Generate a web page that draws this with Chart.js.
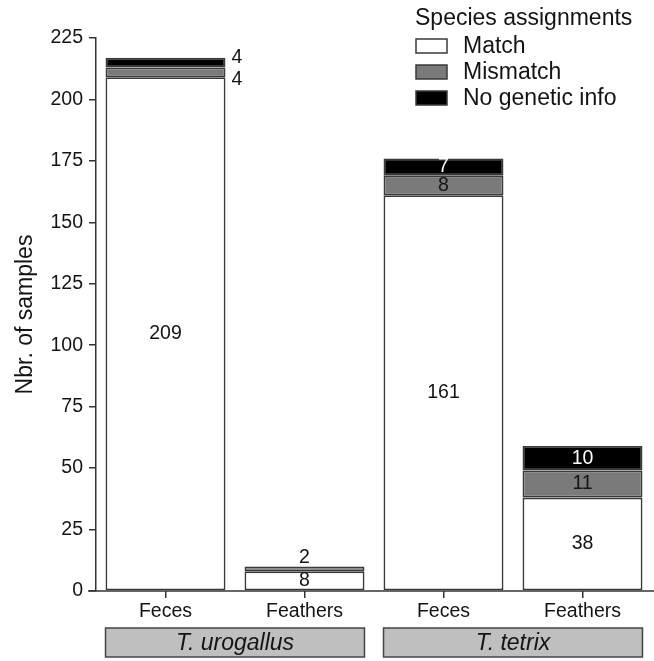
<!DOCTYPE html>
<html>
<head>
<meta charset="utf-8">
<script src="https://cdn.jsdelivr.net/npm/chart.js@4.4.1/dist/chart.umd.min.js"></script>
<style>
  body { margin: 0; background: #fff; }
  canvas { display: block; }
</style>
</head>
<body>
<canvas id="myChart1" width="654" height="661"></canvas>
<script>
const categories = ['Feces', 'Feathers', 'Feces', 'Feathers'];
const groups = ['T. urogallus', 'T. tetrix'];
const groupOfCategory = [0, 0, 1, 1];
const seriesNames = ['Match', 'Mismatch', 'No genetic info'];
const matchCounts = [209, 8, 161, 38];
const mismatchCounts = [4, 2, 8, 11];
const noInfoCounts = [4, 0, 7, 10];
const yMax = 225;
const yStep = 25;

const fillColors = ['#ffffff', '#7a7a7a', '#000000'];
const edgeColor = '#3a3a3a';
const textColor = '#141414';
const fontFamily = '"Liberation Sans", Arial, Helvetica, sans-serif';

// value labels inside segments, small ones pushed outside
const segmentLabels = {
    id: 'segmentLabels',
    afterDatasetsDraw(chart) {
        const c = chart.ctx;
        c.save();
        c.font = '19.5px ' + fontFamily;
        c.textAlign = 'center';
        c.textBaseline = 'middle';
        for (let i = 0; i < categories.length; i++) {
            let small = [];
            let stackTop = Infinity;
            let right = 0;
            chart.data.datasets.forEach((ds, d) => {
                const v = ds.data[i];
                if (!v) return;
                const bar = chart.getDatasetMeta(d).data[i];
                stackTop = Math.min(stackTop, bar.y);
                right = bar.x + bar.width / 2;
                const h = bar.base - bar.y;
                if (h >= 16) {
                    c.fillStyle = ds.backgroundColor === '#000000' ? '#ffffff' : textColor;
                    c.textAlign = 'center';
                    c.fillText(String(v), bar.x, (bar.y + bar.base) / 2);
                } else {
                    small.push({ v: v, bar: bar });
                }
            });
            if (small.length === 1) {
                c.fillStyle = textColor;
                c.textAlign = 'center';
                c.fillText(String(small[0].v), small[0].bar.x, stackTop - 9);
            } else if (small.length > 1) {
                small.sort((a, b) => a.bar.y - b.bar.y);
                c.fillStyle = textColor;
                c.textAlign = 'left';
                small.forEach((s, k) => {
                    c.fillText(String(s.v), right + 6, stackTop + k * 22);
                });
            }
        }
        c.restore();
    }
};

// legend box, group boxes and axis line extension
const decorations = {
    id: 'decorations',
    afterDraw(chart) {
        const c = chart.ctx;
        const area = chart.chartArea;
        c.save();

        // x axis line runs a little past the y axis
        c.strokeStyle = '#333';
        c.lineWidth = 1.5;
        c.beginPath();
        c.moveTo(area.left - 8, area.bottom);
        c.lineTo(chart.width, area.bottom);
        c.stroke();

        // species boxes
        const meta = chart.getDatasetMeta(0);
        groups.forEach((g, gi) => {
            const idx = [];
            groupOfCategory.forEach((v, k) => { if (v === gi) idx.push(k); });
            const first = meta.data[idx[0]];
            const last = meta.data[idx[idx.length - 1]];
            const x0 = first.x - first.width / 2;
            const x1 = last.x + last.width / 2;
            const y0 = area.bottom + 37;
            const h = 29;
            c.fillStyle = '#bfbfbf';
            c.fillRect(x0, y0, x1 - x0, h);
            c.strokeStyle = '#444';
            c.lineWidth = 1.5;
            c.strokeRect(x0, y0, x1 - x0, h);
            c.fillStyle = textColor;
            c.font = 'italic 23px ' + fontFamily;
            c.textAlign = 'center';
            c.textBaseline = 'middle';
            c.fillText(g, (x0 + x1) / 2, y0 + h / 2 + 1);
        });

        // legend
        const lx = 415;
        c.font = '23px ' + fontFamily;
        c.textAlign = 'left';
        c.textBaseline = 'middle';
        c.fillStyle = textColor;
        c.fillText('Species assignments', lx, 19);
        chart.data.datasets.forEach((ds, d) => {
            const cy = 46 + d * 26;
            c.fillStyle = ds.backgroundColor;
            c.fillRect(lx + 1, cy - 7, 31, 14);
            c.strokeStyle = edgeColor;
            c.lineWidth = 1.5;
            c.strokeRect(lx + 1, cy - 7, 31, 14);
            c.fillStyle = textColor;
            c.fillText(ds.label, lx + 48, cy + 1);
        });
        c.restore();
    }
};

const ctx = document.getElementById('myChart1').getContext('2d');
const seriesValues = [matchCounts, mismatchCounts, noInfoCounts];

const myChart1 = new Chart(ctx, {
    type: 'bar',
    data: {
        labels: categories,
        datasets: seriesNames.map((name, k) => ({
            label: name,
            data: seriesValues[k],
            backgroundColor: fillColors[k],
            borderColor: edgeColor,
            borderWidth: 1.8,
            borderSkipped: false,
            categoryPercentage: 1,
            barPercentage: 0.863
        }))
    },
    options: {
        responsive: false,
        animation: false,
        events: [],
        layout: {
            padding: { top: 38, right: 2, left: 0, bottom: 0 }
        },
        plugins: {
            legend: { display: false },
            tooltip: { enabled: false }
        },
        scales: {
            x: {
                stacked: true,
                grid: {
                    display: true,
                    drawOnChartArea: false,
                    offset: false,
                    tickLength: 7,
                    color: '#333',
                    lineWidth: 1.5
                },
                border: { display: false },
                ticks: {
                    color: textColor,
                    font: { family: fontFamily, size: 19.5 },
                    padding: 2,
                    maxRotation: 0
                },
                afterFit: (scale) => { scale.height = 70; }
            },
            y: {
                stacked: true,
                min: 0,
                max: yMax,
                grid: {
                    display: true,
                    drawOnChartArea: false,
                    tickLength: 7,
                    color: '#333',
                    lineWidth: 1.5
                },
                border: { display: true, color: '#333', width: 1.5 },
                ticks: {
                    stepSize: yStep,
                    color: textColor,
                    font: { family: fontFamily, size: 19.5 },
                    padding: 6
                },
                title: {
                    display: true,
                    text: 'Nbr. of samples',
                    color: textColor,
                    font: { family: fontFamily, size: 23 },
                    padding: { top: 12, bottom: 0 }
                },
                afterFit: (scale) => { scale.width = 96; }
            }
        }
    },
    plugins: [segmentLabels, decorations]
});
</script>
</body>
</html>
